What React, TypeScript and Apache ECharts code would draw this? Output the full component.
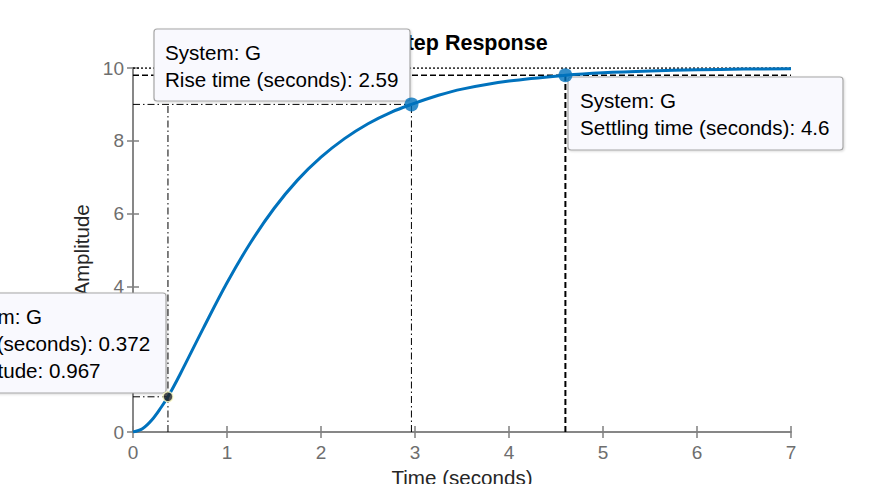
import React, { useEffect, useRef } from "react";
import * as echarts from "echarts";

const timeValues = [0, 0.1, 0.2, 0.3, 0.372, 0.5, 0.75, 1, 1.25, 1.5, 1.75, 2, 2.25, 2.5, 2.75, 2.962, 3.25, 3.5, 4, 4.6, 5, 5.5, 6, 6.5, 7];
const amplitudeValues = [0, 0.09, 0.33, 0.68, 0.967, 1.58, 2.86, 4.1, 5.2, 6.14, 6.92, 7.55, 8.06, 8.47, 8.79, 9.0, 9.25, 9.42, 9.64, 9.8, 9.87, 9.92, 9.95, 9.97, 9.98];
const xTicks = [0, 1, 2, 3, 4, 5, 6, 7];
const yTicks = [0, 2, 4, 6, 8, 10];
const steadyState = 10;
const riseStart = [0.372, 0.967];
const riseEnd = [2.962, 9.0];
const riseTimeLabel = "2.59";
const settle = [4.6, 9.8];
const settleLabel = "4.6";

const FONT = "'Liberation Sans', Arial, Helvetica, sans-serif";

export default function App() {
  const ref = useRef<HTMLDivElement>(null);
  useEffect(() => {
    document.body.style.margin = "0";
    const chart = echarts.init(ref.current!, undefined, { renderer: "svg" });
    const axisGray = "#7f7f7f";
    const labelGray = "#6e6e6e";
    const baseX = {
      type: "value" as const,
      min: xTicks[0],
      max: xTicks[xTicks.length - 1],
      interval: 1,
      splitLine: { show: false },
      axisLine: { show: true, lineStyle: { color: axisGray, width: 1.5 } },
      axisTick: { show: true, inside: true, length: 6, lineStyle: { color: axisGray, width: 1.5 } },
    };
    const baseY = {
      type: "value" as const,
      min: yTicks[0],
      max: yTicks[yTicks.length - 1],
      interval: 2,
      splitLine: { show: false },
      axisLine: { show: true, lineStyle: { color: axisGray, width: 1.5 } },
      axisTick: { show: true, inside: true, length: 6, lineStyle: { color: axisGray, width: 1.5 } },
    };
    const curve = timeValues.map((t, i) => [t, amplitudeValues[i]]);
    const blk = "#000000";
    const dashDot = [7, 3, 1.5, 3];
    const refLine = (data: number[][], type: any, width: number) => ({
      type: "line",
      data,
      showSymbol: false,
      silent: true,
      z: 3,
      lineStyle: { color: blk, width, type },
    });
    const boxStyle = { fill: "#f9f9fe", stroke: "#a6a6a6", lineWidth: 1.2, shadowBlur: 2, shadowColor: "rgba(0,0,0,0.15)", shadowOffsetX: 1, shadowOffsetY: 1 };
    const textStyle = { fill: "#000000", fontSize: 20.6, fontFamily: FONT, lineHeight: 27, verticalAlign: "top" as const };

    chart.setOption({
      animation: false,
      backgroundColor: "#ffffff",
      title: {
        text: "Step Response",
        left: 465,
        textAlign: "center",
        top: 27,
        textStyle: { fontSize: 21.5, fontWeight: "bold", color: "#000", fontFamily: FONT },
      },
      grid: { left: 133, right: 84, top: 68, bottom: 52, outerBoundsMode: "none", containLabel: false },
      xAxis: [
        {
          ...baseX,
          position: "bottom",
          name: "Time (seconds)",
          nameLocation: "middle",
          nameGap: 34,
          nameTextStyle: { fontSize: 20.6, color: "#262626", fontFamily: FONT },
          axisLabel: { show: true, fontSize: 19, color: labelGray, fontFamily: FONT, margin: 11 },
        },
        { ...baseX, position: "top", axisLabel: { show: false } },
      ],
      yAxis: [
        {
          ...baseY,
          position: "left",
          name: "Amplitude",
          nameLocation: "middle",
          nameGap: 38,
          nameTextStyle: { fontSize: 20.6, color: "#262626", fontFamily: FONT },
          axisLabel: { show: true, fontSize: 19, color: labelGray, fontFamily: FONT, margin: 9 },
        },
        { ...baseY, position: "right", axisLabel: { show: false } },
      ],
      series: [
        refLine([[0, steadyState], [7, steadyState]], [2, 2], 1.5),
        refLine([[0, settle[1]], [7, settle[1]]], [6, 3], 1.5),
        refLine([[settle[0], 0], [settle[0], settle[1]]], [6, 3], 2),
        refLine([[0, riseEnd[1]], [riseEnd[0], riseEnd[1]]], dashDot, 1),
        refLine([[riseEnd[0], 0], [riseEnd[0], riseEnd[1]]], dashDot, 1),
        refLine([[riseStart[0], 0], [riseStart[0], riseEnd[1]]], dashDot, 1),
        refLine([[0, riseStart[1]], [riseStart[0], riseStart[1]]], dashDot, 1),
        {
          type: "line",
          data: curve,
          smooth: 0.35,
          showSymbol: false,
          z: 5,
          lineStyle: { color: "#0072BD", width: 3 },
        },
        {
          type: "scatter",
          data: [riseEnd, settle],
          symbol: "circle",
          symbolSize: 14,
          z: 200,
          itemStyle: { color: "#0072BD" },
        },
        {
          type: "scatter",
          data: [riseStart],
          symbol: "circle",
          symbolSize: 10,
          z: 200,
          itemStyle: { color: "#222222", borderColor: "#ffffc8", borderWidth: 1.5 },
        },
      ],
      graphic: [
        {
          type: "group",
          z: 100,
          children: [
            { type: "rect", shape: { x: 154, y: 29, width: 256, height: 72, r: 3 }, style: boxStyle, z: 100 },
            { type: "text", x: 165, y: 39, style: { ...textStyle, text: `System: G\nRise time (seconds): ${riseTimeLabel}` }, z: 101 },
            { type: "rect", shape: { x: 568, y: 77, width: 275, height: 73, r: 3 }, style: boxStyle, z: 100 },
            { type: "text", x: 580, y: 87, style: { ...textStyle, text: `System: G\nSettling time (seconds): ${settleLabel}` }, z: 101 },
            { type: "rect", shape: { x: -62, y: 293, width: 228, height: 100, r: 3 }, style: boxStyle, z: 100 },
            {
              type: "text",
              x: -54,
              y: 303,
              style: { ...textStyle, text: `System: G\nTime (seconds): ${riseStart[0]}\nAmplitude: ${riseStart[1]}` },
              z: 101,
            },
          ],
        },
      ],
    });
    return () => chart.dispose();
  }, []);
  return <div ref={ref} style={{ width: 875, height: 484 }} />;
}
